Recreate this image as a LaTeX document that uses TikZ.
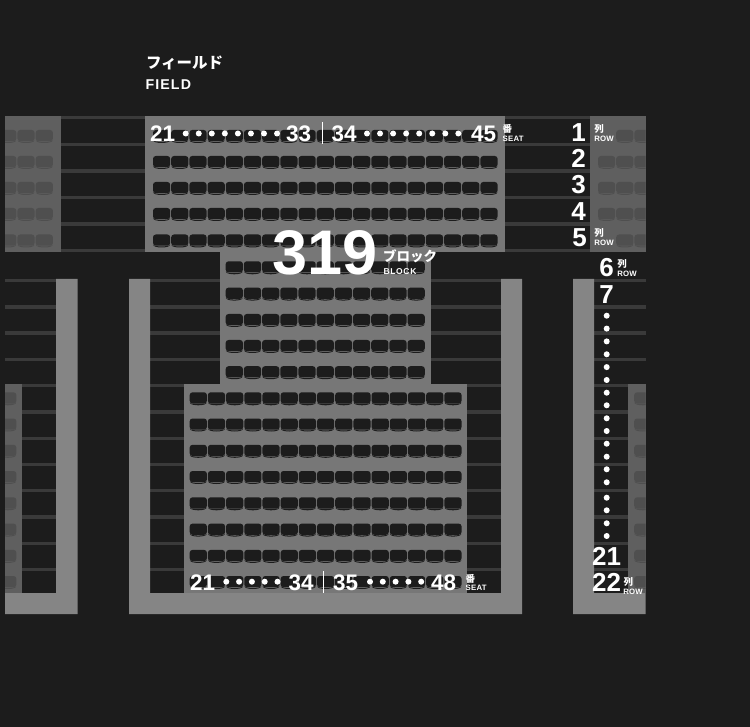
\documentclass[tikz,border=0pt]{standalone}
\usepackage{fontspec}
\setmainfont{Noto Sans CJK JP}
\newfontfamily\dgt{Liberation Sans}
\newfontfamily\spc[LetterSpace=3]{Liberation Sans}
\newfontfamily\spw[LetterSpace=8]{Liberation Sans}
\definecolor{bg}{HTML}{1C1C1C}
\definecolor{rowline}{HTML}{3A3A3A}
\definecolor{blockc}{HTML}{777777}
\definecolor{sidec}{HTML}{5F5F5F}
\definecolor{sideseat}{HTML}{4F4F4F}
\definecolor{wallc}{HTML}{858585}
\newcommand\seatat[3]{%
  \fill[#3,rounded corners=2.8pt] (#1-0.3,#2) rectangle ++(17.2,11.2);
  \fill[#3] (#1-0.1,#2+10.3) .. controls (#1+1.5,#2+12.5) and (#1+15.1,#2+12.5) .. (#1+16.7,#2+10.3)
     .. controls (#1+16.6,#2+13.9) and (#1,#2+13.9) .. cycle;
}
\tikzset{
  x=1pt,y=-1pt,
  tx/.style={anchor=base west,inner sep=0pt,outer sep=0pt,text=white,font=\bfseries},
  num/.style={tx,font=\fontsize{22.5}{22.5}\selectfont\bfseries\dgt},
  rn/.style={anchor=base east,inner sep=0pt,text=white,font=\fontsize{26}{26}\selectfont\bfseries\dgt},
  rc/.style={anchor=base,inner sep=0pt,text=white,font=\fontsize{26}{26}\selectfont\bfseries\dgt},
  kj/.style={tx,font=\fontsize{9.5}{9.5}\selectfont\bfseries},
  sm/.style={tx,font=\fontsize{7.8}{7.8}\selectfont\bfseries\spc},
  dot/.style={circle,fill=white,inner sep=0pt,minimum size=6pt}
}
\begin{document}
\begin{tikzpicture}
\useasboundingbox (0,0) rectangle (750,727);
\fill[bg] (0,0) rectangle (750,727);
% row lines, upper stand
\foreach \y in {116,142.8,169.2,195.8,222.2,248.8}{
  \fill[rowline] (61,\y) rectangle (145,\y+3.4);
  \fill[rowline] (505,\y) rectangle (590,\y+3.4);
}
% row lines, lower stand
\foreach \y in {279,305.25,331.5,357.75}{
  \fill[rowline] (5,\y) rectangle (56,\y+3.4);
  \fill[rowline] (150,\y) rectangle (220,\y+3.4);
  \fill[rowline] (431,\y) rectangle (501,\y+3.4);
  \fill[rowline] (594,\y) rectangle (645.5,\y+3.4);
}
\foreach \y in {384,410.25,436.5,462.75,489,515.25,541.5,567.75}{
  \fill[rowline] (22,\y) rectangle (56,\y+3.4);
  \fill[rowline] (150,\y) rectangle (184,\y+3.4);
  \fill[rowline] (467,\y) rectangle (501,\y+3.4);
  \fill[rowline] (594,\y) rectangle (628,\y+3.4);
}
% blocks
\fill[sidec] (5,116) rectangle (61,252);
\fill[sidec] (590,116) rectangle (645.5,252);
\fill[sidec] (5,384) rectangle (22,593);
\fill[sidec] (628,384) rectangle (645.5,593);
\fill[blockc] (145,116) rectangle (505,252);
\fill[blockc] (220,252) rectangle (431,384);
\fill[blockc] (184,384) rectangle (467,593);
% walls
\fill[wallc] (56,279) -- (77.5,279) -- (77.5,614) -- (5,614) -- (5,593) -- (56,593) -- cycle;
\fill[wallc] (129,279) -- (150,279) -- (150,593) -- (501,593) -- (501,279) -- (522,279) -- (522,614) -- (129,614) -- cycle;
\fill[wallc] (573,279) -- (594,279) -- (594,593) -- (645.5,593) -- (645.5,614) -- (573,614) -- cycle;
% seats: side blocks
\begin{scope}
\clip (5,116) rectangle (61,252);
\foreach \y in {130,156,182,208,234.5}{
  \foreach \x in {-0.5,17.7,36}{\seatat{\x}{\y}{sideseat}}
}
\end{scope}
\begin{scope}
\clip (590,116) rectangle (645.5,252);
\foreach \y in {130,156,182,208,234.5}{
  \foreach \x in {616.5,634.7}{\seatat{\x}{\y}{sideseat}}
}
\foreach \y in {156,182,208}{\seatat{598.3}{\y}{sideseat}}
\end{scope}
\begin{scope}
\clip (5,384) rectangle (22,593);
\foreach \y in {392.3,418.5,444.8,471,497.3,523.6,549.9,576}{\seatat{-0.5}{\y}{sideseat}}
\end{scope}
\begin{scope}
\clip (628,384) rectangle (645.5,593);
\foreach \y in {392.3,418.5,444.8,471,497.3,523.6,549.9,576}{\seatat{634.5}{\y}{sideseat}}
\end{scope}
% seats: centre
\foreach \y in {130,156,182,208,234.5}{
  \foreach \i in {0,...,18}{\pgfmathsetmacro\xx{153.3+18.19*\i}\seatat{\xx}{\y}{bg}}
}
\foreach \y in {261.3,287.6,314,340,366.2}{
  \foreach \i in {0,...,10}{\pgfmathsetmacro\xx{226+18.19*\i}\seatat{\xx}{\y}{bg}}
}
\foreach \y in {392.3,418.5,444.8,471,497.3,523.6,549.9,576}{
  \foreach \i in {0,...,14}{\pgfmathsetmacro\xx{190+18.19*\i}\seatat{\xx}{\y}{bg}}
}
% title
\node[tx,font=\fontsize{15.5}{15.5}\selectfont\bfseries] (field) at (146,69) {フィールド};
\node[tx,font=\fontsize{14.2}{14.2}\selectfont\bfseries\spw] (fielden) at (145.5,89.5) {FIELD};
% upper seat numbers
\node[num] (a21) at (150,142) {21};
\node[num] (a33) at (286,142) {33};
\node[num] (a34) at (331.5,142) {34};
\node[num] (a45) at (471,142) {45};
\coordinate (ad1) at (322,122);
\coordinate (ad2) at (322,144.5);
\draw[white,line width=0.8pt] (ad1) -- (ad2);
\foreach \i in {0,...,7}{
  \pgfmathsetmacro\xa{185.7+13.05*\i}\pgfmathsetmacro\xb{367+13.05*\i}
  \node[dot] (adl\i) at (\xa,133.5) {};
  \node[dot] (adr\i) at (\xb,133.5) {};
}
\node[kj] (aban) at (502.7,133) {番};
\node[sm] (aseat) at (502.7,141.7) {SEAT};
% lower seat numbers
\node[num] (b21) at (190,590.7) {21};
\node[num] (b34) at (288.5,590.7) {34};
\node[num] (b35) at (333,590.7) {35};
\node[num] (b48) at (431,590.7) {48};
\coordinate (bd1) at (323.5,571);
\coordinate (bd2) at (323.5,593);
\draw[white,line width=0.8pt] (bd1) -- (bd2);
\foreach \i in {0,...,4}{
  \pgfmathsetmacro\xa{226.3+12.8*\i}\pgfmathsetmacro\xb{370+12.8*\i}
  \node[dot] (bdl\i) at (\xa,581.7) {};
  \node[dot] (bdr\i) at (\xb,581.7) {};
}
\node[kj] (bban) at (465.7,582.5) {番};
\node[sm] (bseat) at (465.7,590.7) {SEAT};
% row numbers
\node[rn] (r1) at (586,141.7) {1};
\node[rn] (r2) at (586,167.7) {2};
\node[rn] (r3) at (586,194) {3};
\node[rn] (r4) at (586,220.2) {4};
\node[rn] (r5) at (587,246.7) {5};
\node[rc] (r6) at (606.7,276.7) {6};
\node[rc] (r7) at (606.7,303.3) {7};
\node[rc] (r21) at (606.5,565) {21};
\node[rc] (r22) at (606.5,591.7) {22};
\foreach \y [count=\n] in {315.7,328.6,341.4,354.3,367.1,380,392.7,405.3,418.3,431,443.7,456.7,469.3,482.3,497.7,510.3,523.3,536}{
  \node[dot] (rd\n) at (606.7,\y) {};
}
\node[kj] (l1) at (594.3,133) {列};
\node[sm] (lr1) at (594.3,141.7) {ROW};
\node[kj] (l5) at (594.3,237) {列};
\node[sm] (lr5) at (594.3,246) {ROW};
\node[kj] (l6) at (617.3,267.5) {列};
\node[sm] (lr6) at (617.3,276.7) {ROW};
\node[kj] (l22) at (623.5,585) {列};
\node[sm] (lr22) at (623.3,594) {ROW};
% block label
\node[tx,font=\fontsize{63}{63}\selectfont\bfseries\dgt] (blk) at (272.5,275) {319};
\node[tx,font=\fontsize{13.5}{13.5}\selectfont\bfseries] (blkjp) at (383,261.5) {ブロック};
\node[tx,font=\fontsize{8.5}{8.5}\selectfont\bfseries\spw] (blken) at (383.5,275) {BLOCK};
\end{tikzpicture}
\end{document}
